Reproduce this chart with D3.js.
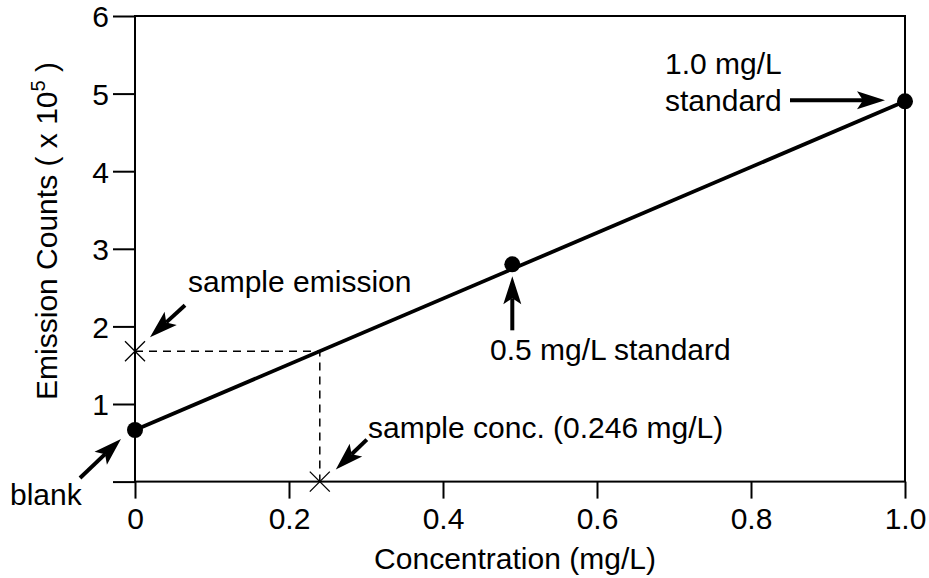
<!DOCTYPE html>
<html>
<head>
<meta charset="utf-8">
<script src="https://cdn.jsdelivr.net/npm/d3@7"></script>
<style>
	body { margin: 0; background: #fff; }
	#chart { width: 929px; height: 578px; }
	text { font-family: "Liberation Sans", Arial, sans-serif; fill: #000; }
</style>
</head>
<body>
<div id="chart"></div>
<script>
"use strict"

// calibration points: blank, 0.5 and 1.0 mg/L standards
const concentrations = [0, 0.49, 1.0];
const emissions = [0.665, 2.80, 4.90];

// calibration line ends
const fitConc = [0, 1.0];
const fitEmission = [0.665, 4.90];

// the unknown sample
const sampleConc = 0.24;
const sampleEmission = 1.68;

const xTicks = [0, 0.2, 0.4, 0.6, 0.8, 1.0];
const xTickLabels = ["0", "0.2", "0.4", "0.6", "0.8", "1.0"];
const yTicks = [0, 1, 2, 3, 4, 5, 6];
const yTickLabels = ["", "1", "2", "3", "4", "5", "6"];

let CalibrationView = function(targetID) {
	let self = {
		targetID: targetID,
		totalWidth: 929,
		totalHeight: 578,
		margin: {left: 135, right: 24, top: 16, bottom: 96.4},
		xScale: d3.scaleLinear(),
		yScale: d3.scaleLinear(),
		svg: null,
		g: null,
	}

	function arrow(x1, y1, x2, y2) {
		// shaft + notched filled head, tip at (x2,y2)
		let ang = Math.atan2(y2 - y1, x2 - x1);
		let len = 28, hw = 9, notch = 22;
		let ca = Math.cos(ang), sa = Math.sin(ang);
		let bx = x2 - len * ca, by = y2 - len * sa;
		let nx = x2 - notch * ca, ny = y2 - notch * sa;
		self.svg.append("line")
			.attr("x1", x1).attr("y1", y1).attr("x2", nx).attr("y2", ny)
			.attr("stroke", "#000").attr("stroke-width", 4);
		self.svg.append("path")
			.attr("d", `M${x2},${y2}L${bx - hw * sa},${by + hw * ca}L${nx},${ny}L${bx + hw * sa},${by - hw * ca}Z`)
			.attr("fill", "#000");
	}

	function cross(cx, cy) {
		let r = 10;
		self.svg.append("path")
			.attr("d", `M${cx - r},${cy - r}L${cx + r},${cy + r}M${cx - r},${cy + r}L${cx + r},${cy - r}`)
			.attr("stroke", "#000").attr("stroke-width", 1.3);
	}

	function draw() {
		let width = self.totalWidth - self.margin.left - self.margin.right;
		let height = self.totalHeight - self.margin.top - self.margin.bottom;

		self.xScale.domain([0, 1.0]).range([0, width]);
		self.yScale.domain([0, 6]).range([height, 0]);

		self.svg = d3.select(self.targetID).append("svg")
			.attr("width", self.totalWidth)
			.attr("height", self.totalHeight);

		self.g = self.svg.append("g")
			.attr("transform", `translate(${self.margin.left},${self.margin.top})`);

		let x = self.xScale, y = self.yScale;

		// y axis, ticks run outwards (0 and 6 ticks become the frame extensions)
		let yAxis = self.g.append("g")
			.call(d3.axisLeft(y).tickValues(yTicks).tickSize(22).tickPadding(4)
				.tickFormat((d, i) => yTickLabels[i]));
		yAxis.select(".domain").remove();
		yAxis.selectAll(".tick line").attr("stroke", "#000").attr("stroke-width", 2);
		yAxis.selectAll(".tick text").style("font-size", "30px").attr("x", -26).attr("dy", "0.36em");

		let xAxis = self.g.append("g")
			.attr("transform", `translate(0,${height})`)
			.call(d3.axisBottom(x).tickValues(xTicks).tickSize(17).tickPadding(7)
				.tickFormat((d, i) => xTickLabels[i]));
		xAxis.select(".domain").remove();
		xAxis.selectAll(".tick line").attr("stroke", "#000").attr("stroke-width", 2);
		xAxis.selectAll(".tick text").style("font-size", "30px").attr("dy", "0.78em");

		// plot frame
		self.g.append("rect")
			.attr("x", 0).attr("y", 0)
			.attr("width", width).attr("height", height)
			.attr("fill", "none").attr("stroke", "#000").attr("stroke-width", 2);

		// axis titles
		self.svg.append("text")
			.attr("x", self.margin.left + width * 0.5 - 5)
			.attr("y", 569)
			.attr("text-anchor", "middle")
			.style("font-size", "30px")
			.text("Concentration (mg/L)");

		let yt = self.svg.append("text")
			.attr("transform", "translate(57,231)rotate(-90)")
			.attr("text-anchor", "middle")
			.style("font-size", "30px");
		yt.append("tspan").text("Emission Counts ( x 10");
		yt.append("tspan").attr("dy", -12).style("font-size", "20px").text("5");
		yt.append("tspan").attr("dy", 12).text(" )");

		// dashed read-off lines
		self.g.append("path")
			.attr("d", d3.line()([[x(0), y(sampleEmission)], [x(sampleConc), y(sampleEmission)], [x(sampleConc), y(0)]]))
			.attr("fill", "none").attr("stroke", "#000").attr("stroke-width", 1.5)
			.attr("stroke-dasharray", "8,6");

		// calibration line
		self.g.append("path")
			.datum(fitConc.map((c, i) => [c, fitEmission[i]]))
			.attr("d", d3.line().x(d => x(d[0])).y(d => y(d[1])))
			.attr("fill", "none").attr("stroke", "#000").attr("stroke-width", 3.8);

		self.g.append("g").selectAll("circle")
			.data(concentrations.map((c, i) => [c, emissions[i]]))
			.enter().append("circle")
				.attr("cx", d => x(d[0]))
				.attr("cy", d => y(d[1]))
				.attr("r", 8)
				.attr("fill", "#000");

		let px = v => self.margin.left + x(v);
		let py = v => self.margin.top + y(v);

		cross(px(0), py(sampleEmission));
		cross(px(sampleConc), py(0));

		// annotations
		let txt = (tx, ty, s) => self.svg.append("text").attr("x", tx).attr("y", ty)
			.style("font-size", "30px").text(s);

		txt(665, 74, "1.0 mg/L");
		txt(665, 111, "standard");
		arrow(px(1.0) - 115, py(emissions[2]) - 1, px(1.0) - 20, py(emissions[2]) - 1);

		txt(490, 360, "0.5 mg/L standard");
		arrow(px(concentrations[1]), py(emissions[1]) + 66, px(concentrations[1]), py(emissions[1]) + 12);

		txt(188, 292, "sample emission");
		arrow(px(0) + 50, py(sampleEmission) - 46, px(0) + 15, py(sampleEmission) - 14);

		txt(368, 438, "sample conc. (0.246 mg/L)");
		arrow(px(sampleConc) + 47, py(0) - 42, px(sampleConc) + 16, py(0) - 12);

		txt(10, 505, "blank");
		arrow(px(0) - 55, py(emissions[0]) + 48, px(0) - 14, py(emissions[0]) + 9);
	}

	return { draw };
}

CalibrationView("#chart").draw();
</script>
</body>
</html>
